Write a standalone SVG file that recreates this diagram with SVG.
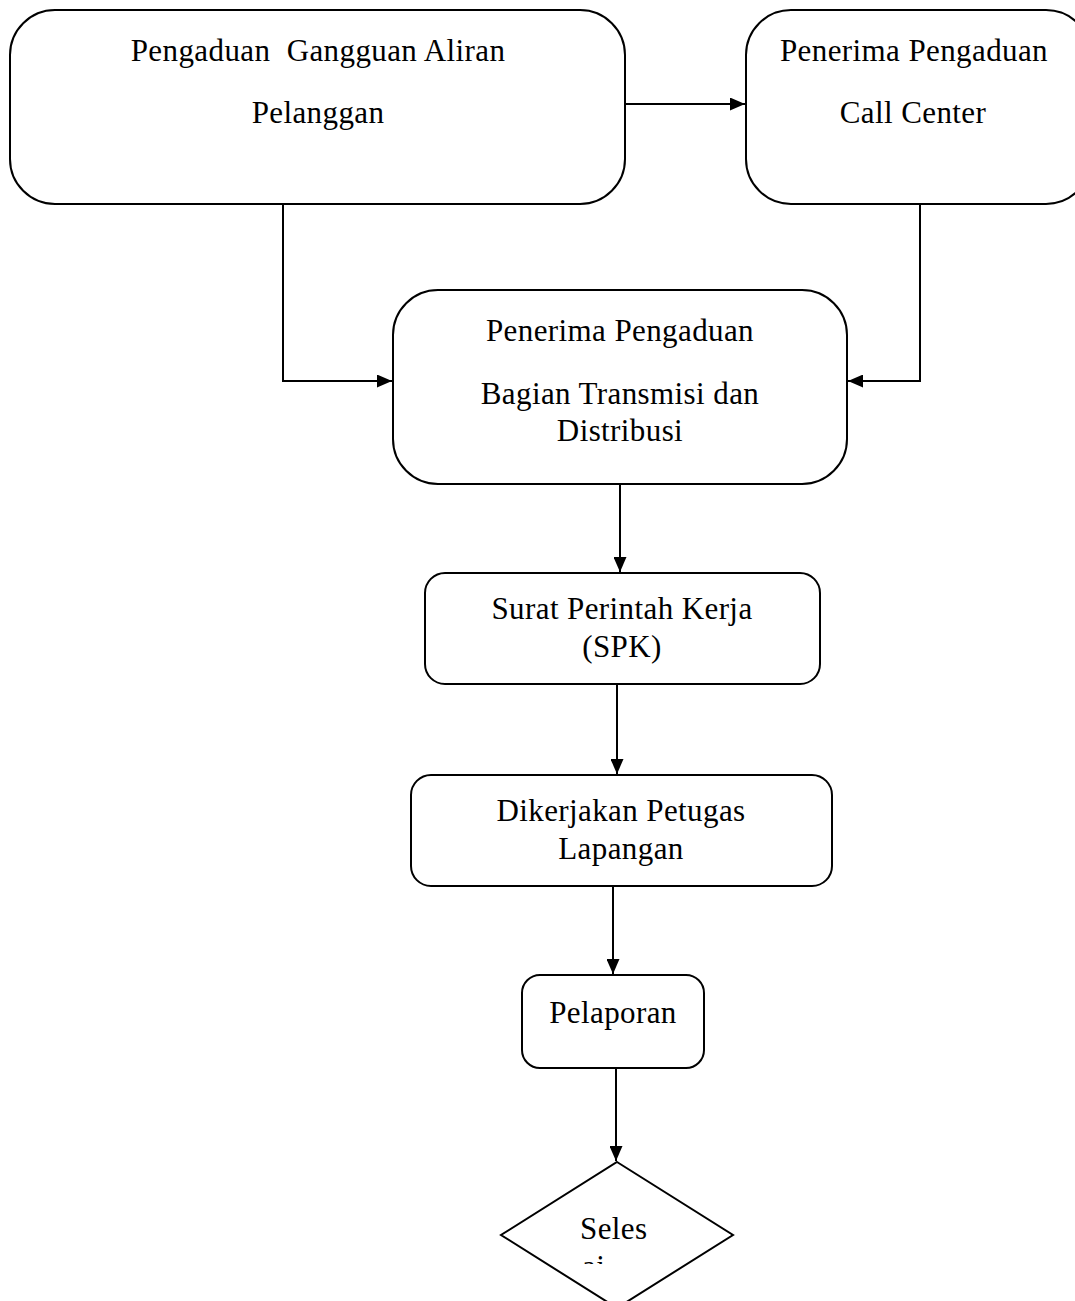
<svg xmlns="http://www.w3.org/2000/svg" width="1075" height="1301" viewBox="0 0 1075 1301">
<style>
.box{fill:#fff;stroke:#000;stroke-width:2}
.t{font-family:"Liberation Serif","Times New Roman",serif;font-size:31px;letter-spacing:0.4px;fill:#000;text-anchor:middle}
.c{fill:none;stroke:#000;stroke-width:2}
</style>
<defs>
<marker id="ah" viewBox="0 0 15 13" refX="15" refY="6.5" markerWidth="15" markerHeight="13" markerUnits="userSpaceOnUse" orient="auto">
<path d="M0,0 L15,6.5 L0,13 Z" fill="#000"/>
</marker>
<clipPath id="clipAi"><rect x="570" y="1256" width="60" height="8"/></clipPath>
</defs>
<rect width="1075" height="1301" fill="#fff"/>
<g id="connectors">
<line class="c" x1="625" y1="104" x2="745" y2="104" marker-end="url(#ah)"/>
<polyline class="c" points="283,204 283,381 392,381" marker-end="url(#ah)"/>
<polyline class="c" points="920,204 920,381 848,381" marker-end="url(#ah)"/>
<line class="c" x1="620" y1="484" x2="620" y2="572" marker-end="url(#ah)"/>
<line class="c" x1="617" y1="684" x2="617" y2="774" marker-end="url(#ah)"/>
<line class="c" x1="613" y1="886" x2="613" y2="974" marker-end="url(#ah)"/>
<line class="c" x1="616" y1="1068" x2="616" y2="1161" marker-end="url(#ah)"/>
</g>
<g id="n1">
<rect class="box" x="10" y="10" width="615" height="194" rx="45"/>
<text class="t" x="318" y="61" xml:space="preserve">Pengaduan  Gangguan Aliran</text>
<text class="t" x="318" y="123">Pelanggan</text>
</g>
<g id="n2">
<rect class="box" x="746" y="10" width="345" height="194" rx="45"/>
<text class="t" x="914" y="61">Penerima Pengaduan</text>
<text class="t" x="913" y="123">Call Center</text>
</g>
<g id="n3">
<rect class="box" x="393" y="290" width="454" height="194" rx="45"/>
<text class="t" x="620" y="341">Penerima Pengaduan</text>
<text class="t" x="620" y="404">Bagian Transmisi dan</text>
<text class="t" x="620" y="441">Distribusi</text>
</g>
<g id="n4">
<rect class="box" x="425" y="573" width="395" height="111" rx="20"/>
<text class="t" x="622" y="619">Surat Perintah Kerja</text>
<text class="t" x="622" y="657">(SPK)</text>
</g>
<g id="n5">
<rect class="box" x="411" y="775" width="421" height="111" rx="20"/>
<text class="t" x="621" y="821">Dikerjakan Petugas</text>
<text class="t" x="621" y="859">Lapangan</text>
</g>
<g id="n6">
<rect class="box" x="522" y="975" width="182" height="93" rx="18"/>
<text class="t" x="613" y="1023">Pelaporan</text>
</g>
<g id="n7">
<polygon class="box" points="617,1162 733,1235 617,1308 501,1235"/>
<text class="t" x="580" y="1239" style="text-anchor:start">Seles</text>
<text class="t" x="582" y="1277" style="text-anchor:start" clip-path="url(#clipAi)">ai</text>
</g>
</svg>
